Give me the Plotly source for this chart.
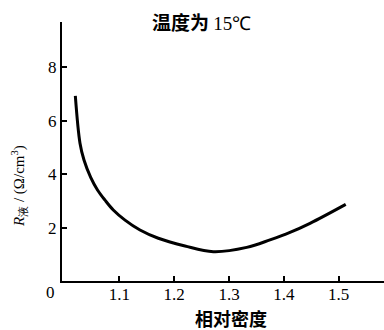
import plotly.graph_objects as go

density = [1.0198, 1.0283, 1.0356, 1.0478, 1.0602, 1.0739, 1.0890, 1.1104, 1.1377, 1.1711,
           1.2198, 1.2714, 1.3323, 1.3747, 1.4112, 1.4477, 1.5128]
resistance = [6.93, 5.16, 4.53, 3.88, 3.41, 3.03, 2.66, 2.28, 1.91, 1.60,
              1.31, 1.10, 1.26, 1.54, 1.82, 2.16, 2.87]
x_ticks = [1.1, 1.2, 1.3, 1.4, 1.5]
y_ticks = [2, 4, 6, 8]

serif = "Liberation Serif"
cjk = "Noto Sans CJK SC"

fig = go.Figure(go.Scatter(x=density, y=resistance, mode="lines",
                           line=dict(color="black", width=3, shape="spline", smoothing=1.0),
                           hoverinfo="skip"))

fig.update_layout(
    width=384, height=330, autosize=False,
    margin=dict(l=62, r=0, t=22, b=49),
    paper_bgcolor="white", plot_bgcolor="white",
    showlegend=False,
    xaxis=dict(range=[0.9955, 1.5826], tickvals=x_ticks, ticktext=[str(v) for v in x_ticks],
               ticks="inside", ticklen=5, tickwidth=1.5, tickcolor="black",
               showline=True, linecolor="black", linewidth=2, showgrid=False, zeroline=False,
               ticklabelstandoff=-3,
               tickfont=dict(family=serif, size=17, color="black")),
    yaxis=dict(range=[0, 9.7], tickvals=y_ticks, ticktext=[str(v) for v in y_ticks],
               ticks="inside", ticklen=5, tickwidth=1.5, tickcolor="black",
               showline=True, linecolor="black", linewidth=2, showgrid=False, zeroline=False,
               tickfont=dict(family=serif, size=17, color="black")),
)

pw = 384 - 62
ph = 330 - 22 - 49
def px_to_paper(px, py):
    return (px - 62) / pw, (330 - 49 - py) / ph

labels = [
    ("<b>温度为</b> <span style='font-family:Liberation Serif'>15℃</span>", (201, 21), dict(family=cjk, size=19), 0),
    ("<b>相对密度</b>", (231, 318), dict(family=cjk, size=18), 0),
    ("<i>R</i><sub>液</sub> / (Ω/cm<sup>3</sup>)", (19, 186), dict(family=serif, size=15), -90),
    ("0", (50, 292), dict(family=serif, size=17), 0),
]
for text, (px, py), font, ang in labels:
    xp, yp = px_to_paper(px, py)
    font["color"] = "black"
    fig.add_annotation(text=text, x=xp, y=yp, xref="paper", yref="paper",
                       xanchor="center", yanchor="middle", showarrow=False,
                       textangle=ang, font=font)

fig.write_html("out.html", config={"displayModeBar": False},
               post_script="document.body.style.margin='0';")
